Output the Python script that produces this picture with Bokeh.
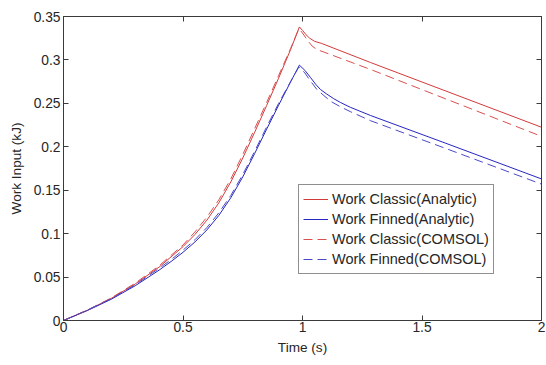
from bokeh.plotting import figure
from bokeh.models import LinearAxis, FixedTicker, Legend, LegendItem, CustomJSTickFormatter
from bokeh.embed import file_html
from bokeh.resources import INLINE

# ---- data ----
t_classic_an = [0, 0.1, 0.2, 0.3, 0.4, 0.5, 0.55, 0.6, 0.65, 0.7, 0.75, 0.8, 0.85, 0.9, 0.95, 0.987,
                1.0, 1.015, 1.03, 1.05, 1.08, 1.285, 2.0]
w_classic_an = [0, 0.0118, 0.0255, 0.042, 0.0615, 0.085, 0.099, 0.1155, 0.1355, 0.1595, 0.187, 0.2168,
                0.2475, 0.279, 0.3118, 0.338,
                0.334, 0.329, 0.325, 0.3215, 0.319, 0.297, 0.2225]

t_finned_an = [0, 0.1, 0.2, 0.3, 0.4, 0.45, 0.5, 0.55, 0.6, 0.65, 0.7, 0.75, 0.8, 0.85, 0.9, 0.95, 0.987,
               1.01, 1.033, 1.055, 1.075, 1.1, 1.13, 1.159, 1.2, 1.285, 1.6, 2.0]
w_finned_an = [0, 0.0115, 0.0245, 0.040, 0.058, 0.0679, 0.0785, 0.0904, 0.1043, 0.121, 0.1413, 0.1653,
               0.1923, 0.2203, 0.2478, 0.2746, 0.294,
               0.288, 0.280, 0.272, 0.266, 0.261, 0.2555, 0.251, 0.2455, 0.236, 0.204, 0.163]

t_classic_cm = [0, 0.1, 0.2, 0.3, 0.4, 0.5, 0.55, 0.6, 0.65, 0.7, 0.75, 0.8, 0.85, 0.9, 0.95, 0.985,
                1.0, 1.02, 1.04, 1.06, 1.09, 1.285, 2.0]
w_classic_cm = [0, 0.012, 0.026, 0.043, 0.063, 0.087, 0.102, 0.119, 0.139, 0.163, 0.191, 0.221,
                0.251, 0.282, 0.313, 0.336,
                0.331, 0.323, 0.316, 0.312, 0.309, 0.289, 0.212]

t_finned_cm = [0, 0.1, 0.2, 0.3, 0.4, 0.45, 0.5, 0.55, 0.6, 0.65, 0.7, 0.75, 0.8, 0.85, 0.9, 0.95, 0.985,
               1.01, 1.03, 1.06, 1.089, 1.12, 1.159, 1.2, 1.285, 1.6, 2.0]
w_finned_cm = [0, 0.012, 0.025, 0.041, 0.060, 0.070, 0.081, 0.093, 0.107, 0.124, 0.144, 0.168,
               0.195, 0.223, 0.250, 0.275, 0.292,
               0.285, 0.277, 0.266, 0.259, 0.252, 0.246, 0.2405, 0.230, 0.198, 0.157]

series_labels = ["Work Classic(Analytic)", "Work Finned(Analytic)",
                 "Work Classic(COMSOL)", "Work Finned(COMSOL)"]

x_ticks = [0, 0.5, 1, 1.5, 2]
x_tick_labels = ["0", "0.5", "1", "1.5", "2"]
y_ticks = [0, 0.05, 0.1, 0.15, 0.2, 0.25, 0.3, 0.35]
y_tick_labels = ["0", "0.05", "0.1", "0.15", "0.2", "0.25", "0.3", "0.35"]

RED = "#d23a3a"
BLUE = "#2626bf"
RED_D = "#d85050"
BLUE_D = "#4a4ac8"
FONT = "Liberation Sans"
TXT = "#262626"
AX = "#3a3a3a"

p = figure(width=546, height=365, output_backend="svg", toolbar_location=None,
           x_range=(0, 2), y_range=(0, 0.35),
           min_border_left=63, min_border_right=5, min_border_top=16, min_border_bottom=45,
           x_axis_location=None, y_axis_location=None)
p.xgrid.visible = False
p.ygrid.visible = False
p.outline_line_color = AX
p.background_fill_color = "white"
p.border_fill_color = "white"

r1 = p.line(t_classic_an, w_classic_an, line_color=RED, line_width=1)
r2 = p.line(t_finned_an, w_finned_an, line_color=BLUE, line_width=1)
r3 = p.line(t_classic_cm, w_classic_cm, line_color=RED_D, line_width=1, line_dash="9 5")
r4 = p.line(t_finned_cm, w_finned_cm, line_color=BLUE_D, line_width=1, line_dash="9 5")


def style_axis(ax, labels=True):
    ax.major_tick_in = 5
    ax.major_tick_out = 0
    ax.minor_tick_in = 0
    ax.minor_tick_out = 0
    ax.axis_line_color = AX
    ax.major_tick_line_color = AX
    ax.major_label_text_font = FONT
    ax.major_label_text_font_size = "13.8px"
    ax.major_label_text_color = TXT
    ax.axis_label_text_font = FONT
    ax.axis_label_text_font_size = "13.6px"
    ax.axis_label_text_font_style = "normal"
    ax.axis_label_text_color = TXT
    if not labels:
        ax.formatter = CustomJSTickFormatter(code="return ''")
        ax.major_label_standoff = 0


xb = LinearAxis(ticker=FixedTicker(ticks=x_ticks), axis_label="Time (s)")
xb.major_label_overrides = {x: l for x, l in zip(x_ticks, x_tick_labels)}
style_axis(xb)
xb.major_label_standoff = 1
xb.axis_label_standoff = 5
p.add_layout(xb, "below")

yl = LinearAxis(ticker=FixedTicker(ticks=y_ticks), axis_label="Work Input (kJ)")
yl.major_label_overrides = {y: l for y, l in zip(y_ticks, y_tick_labels)}
style_axis(yl)
yl.major_label_standoff = 3
yl.axis_label_standoff = 7
p.add_layout(yl, "left")

xt = LinearAxis(ticker=FixedTicker(ticks=x_ticks))
style_axis(xt, labels=False)
p.add_layout(xt, "above")

yr = LinearAxis(ticker=FixedTicker(ticks=y_ticks))
style_axis(yr, labels=False)
p.add_layout(yr, "right")

legend = Legend(items=[LegendItem(label=series_labels[0], renderers=[r1]),
                       LegendItem(label=series_labels[1], renderers=[r2]),
                       LegendItem(label=series_labels[2], renderers=[r3]),
                       LegendItem(label=series_labels[3], renderers=[r4])],
                location=(235, 46))
legend.label_text_font = FONT
legend.label_text_font_size = "14.5px"
legend.label_text_color = TXT
legend.border_line_color = "#202020"
legend.border_line_width = 1
legend.background_fill_alpha = 1
legend.glyph_width = 25
legend.glyph_height = 20
legend.label_height = 20
legend.label_standoff = 4
legend.spacing = 0
legend.padding = 4
legend.margin = 0
p.add_layout(legend, "center")

open("out.html", "w").write(file_html(p, INLINE))
